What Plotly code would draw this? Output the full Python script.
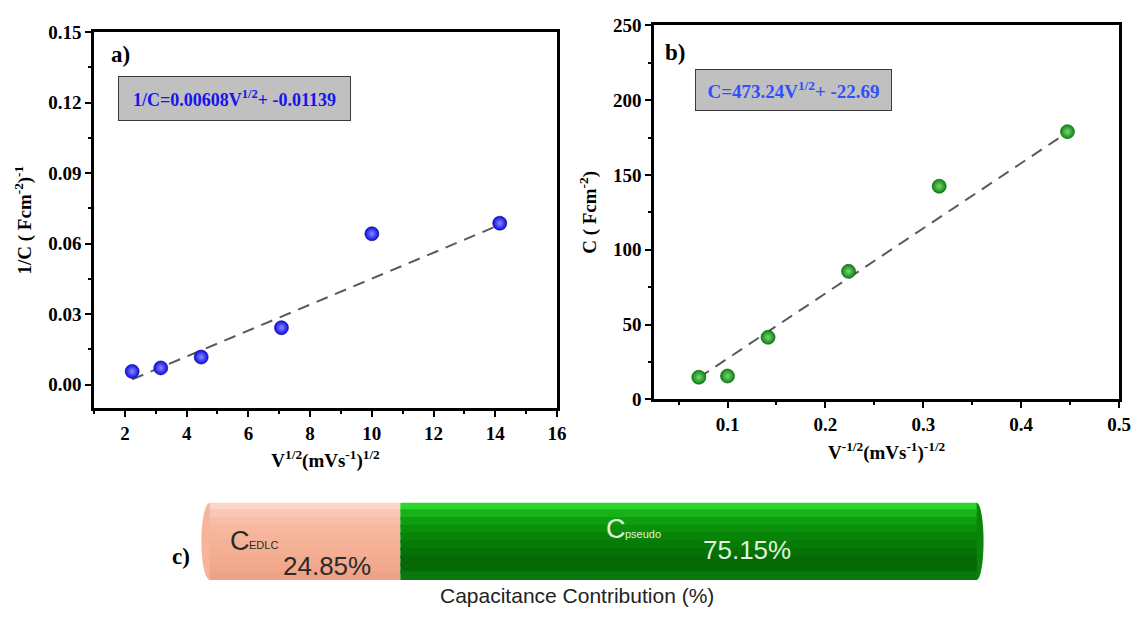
import plotly.graph_objects as go

# ---------------- data ----------------
# panel a
xa = [2.236, 3.162, 4.472, 7.071, 10.0, 14.142]
ya = [0.0056, 0.0071, 0.0117, 0.0242, 0.0642, 0.0687]
fit_a_x = [2.236, 14.142]
fit_a_y = [0.0022, 0.0680]
eq_a = "1/C=0.00608V<sup>1/2</sup>+ -0.01139"

# panel b
xb = [0.0707, 0.1, 0.1414, 0.2236, 0.3162, 0.4472]
yb = [14.8, 15.6, 41.5, 85.6, 142.5, 179.0]
fit_b_x = [0.0707, 0.4472]
fit_b_y = [14.5, 178.5]
eq_b = "C=473.24V<sup>1/2</sup>+ -22.69"

# panel c
parts = ["C_EDLC", "C_pseudo"]
contrib = [24.85, 75.15]
contrib_labels = ["24.85%", "75.15%"]

# ---------------- style ----------------
SERIF = "Liberation Serif"
SANS = "Liberation Sans"
W, H = 1146, 620

def px_x(p):
    return p / W

def px_y(p):
    return 1 - p / H

fig = go.Figure()

# panel a traces
fig.add_trace(go.Scatter(x=fit_a_x, y=fit_a_y, mode="lines",
                         line=dict(color="#5a5a5a", width=2, dash="12px,8px"),
                         xaxis="x", yaxis="y", showlegend=False))
fig.add_trace(go.Scatter(x=xa, y=ya, mode="markers",
                         marker=dict(size=14, color="#0c0ce6",
                                     gradient=dict(type="radial", color="#8a8aff"),
                                     line=dict(width=0.6, color="#00008a")),
                         xaxis="x", yaxis="y", showlegend=False))

# panel b traces
fig.add_trace(go.Scatter(x=fit_b_x, y=fit_b_y, mode="lines",
                         line=dict(color="#5a5a5a", width=2, dash="12px,8px"),
                         xaxis="x2", yaxis="y2", showlegend=False))
fig.add_trace(go.Scatter(x=xb, y=yb, mode="markers",
                         marker=dict(size=14, color="#0a8a0a",
                                     gradient=dict(type="radial", color="#7fd27f"),
                                     line=dict(width=0.6, color="#035503")),
                         xaxis="x2", yaxis="y2", showlegend=False))

# panel c: cylinder-like stacked bar built from overlapping gradient bands
peach_bands = ["#fbd7c8", "#f9c8b4", "#f8bea8", "#f7b89f", "#f6b49a",
               "#f5b196", "#f4ae93", "#f3ab90", "#f1a88c", "#eda386"]
green_bands = ["#2bd62b", "#17b217", "#0f9e0f", "#0b900b", "#088508",
               "#077b07", "#067206", "#056a05", "#066a06", "#0a780a"]
band_colors = [peach_bands, green_bands]
nb = len(peach_bands)
starts = [0.0]
for v in contrib[:-1]:
    starts.append(starts[-1] + v)
for i, (v, s) in enumerate(zip(contrib, starts)):
    for k, col in enumerate(band_colors[i]):
        fig.add_trace(go.Bar(x=[v], y=[nb - k - 0.5], base=[s], orientation="h",
                             width=1.3, marker=dict(color=col, line=dict(width=0)),
                             xaxis="x3", yaxis="y3", showlegend=False,
                             hoverinfo="skip"))

axis_common = dict(showline=True, linecolor="black", linewidth=2.5, mirror=True,
                   ticks="outside", ticklen=6, tickwidth=2, tickcolor="black",
                   showgrid=False, zeroline=False,
                   tickfont=dict(family=SERIF, size=19, color="black", weight="bold"),
                   minor=dict(ticks="outside", ticklen=3, tickwidth=2, tickcolor="black"))

title_font = dict(family=SERIF, size=19, color="black", weight="bold")

fig.update_layout(
    width=W, height=H, margin=dict(l=0, r=0, t=0, b=0),
    paper_bgcolor="white", plot_bgcolor="white", barmode="overlay",
    showlegend=False,
    xaxis=dict(domain=[px_x(95), px_x(563)], range=[1, 16], tick0=0, dtick=2,
               minor_dtick=1,
               title=dict(text="V<sup>1/2</sup>(mVs<sup>-1</sup>)<sup>1/2</sup>",
                          font=title_font, standoff=12),
               anchor="y", **axis_common),
    yaxis=dict(domain=[px_y(412), px_y(23)], range=[-0.01, 0.15], tick0=0, dtick=0.03,
               tickformat=".2f", minor_dtick=0.015,
               title=dict(text="1/C ( Fcm<sup>-2</sup>)<sup>-1</sup>",
                          font=title_font, standoff=12),
               anchor="x", **axis_common),
    xaxis2=dict(domain=[px_x(661), px_x(1131)], range=[0.025, 0.5], tick0=0, dtick=0.1,
                tickformat=".1f", minor_dtick=0.05,
                title=dict(text="V<sup>-1/2</sup>(mVs<sup>-1</sup>)<sup>-1/2</sup>",
                           font=title_font, standoff=12),
                anchor="y2", **axis_common),
    yaxis2=dict(domain=[px_y(403), px_y(16)], range=[0, 250], tick0=0, dtick=50,
                minor_dtick=25,
                title=dict(text="C ( Fcm<sup>-2</sup>)", font=title_font, standoff=12),
                anchor="x2", **axis_common),
    xaxis3=dict(domain=[px_x(196.5), px_x(1002.5)], range=[-2, 102], visible=False,
                anchor="y3", fixedrange=True),
    yaxis3=dict(domain=[px_y(590), px_y(510)], range=[0, nb], visible=False,
                anchor="x3", fixedrange=True),
)

# cylinder end caps
total = sum(contrib)
fig.add_shape(type="circle", xref="x3", yref="y3", x0=-1.1, x1=1.1, y0=0, y1=nb,
              fillcolor="#f6b49a", line=dict(width=0), layer="below")
fig.add_shape(type="circle", xref="x3", yref="y3", x0=total - 0.9, x1=total + 0.9,
              y0=0, y1=nb, fillcolor="#0a840a", line=dict(width=0), layer="below")

# equation boxes
fig.add_annotation(text=eq_a, xref="paper", yref="paper", x=px_x(119), y=px_y(68),
                   xanchor="left", yanchor="top", showarrow=False,
                   width=231, height=43, bgcolor="#c0c0c0", bordercolor="#3a3a3a",
                   borderwidth=1, borderpad=0, align="center",
                   font=dict(family=SERIF, size=18, color="#1414f0", weight="bold"))
fig.add_annotation(text=eq_b, xref="paper", yref="paper", x=px_x(702), y=px_y(61),
                   xanchor="left", yanchor="top", showarrow=False,
                   width=195, height=40, bgcolor="#c0c0c0", bordercolor="#3a3a3a",
                   borderwidth=1, borderpad=0, align="center",
                   font=dict(family=SERIF, size=19, color="#3050ff", weight="bold"))

# panel labels
for lab, x, y in [("a)", 110, 46), ("b)", 670, 44), ("c)", 172, 566)]:
    fig.add_annotation(text=lab, xref="paper", yref="paper", x=px_x(x), y=px_y(y),
                       xanchor="left", yanchor="middle", showarrow=False,
                       font=dict(family=SERIF, size=23, color="black", weight="bold"))

# bar labels (panel c)
dark = "#2b2b2b"
light = "#dff3df"
fig.add_annotation(text="C", xref="paper", yref="paper", x=px_x(230), y=px_y(550),
                   xanchor="left", yanchor="middle", showarrow=False,
                   font=dict(family=SANS, size=27, color=dark))
fig.add_annotation(text="EDLC", xref="paper", yref="paper", x=px_x(250), y=px_y(554),
                   xanchor="left", yanchor="middle", showarrow=False,
                   font=dict(family=SANS, size=11, color=dark))
fig.add_annotation(text=contrib_labels[0], xref="paper", yref="paper", x=px_x(330),
                   y=px_y(576), xanchor="center", yanchor="middle", showarrow=False,
                   font=dict(family=SANS, size=26, color=dark))
fig.add_annotation(text="C", xref="paper", yref="paper", x=px_x(610), y=px_y(537),
                   xanchor="left", yanchor="middle", showarrow=False,
                   font=dict(family=SANS, size=27, color=light))
fig.add_annotation(text="pseudo", xref="paper", yref="paper", x=px_x(630), y=px_y(542),
                   xanchor="left", yanchor="middle", showarrow=False,
                   font=dict(family=SANS, size=11, color=light))
fig.add_annotation(text=contrib_labels[1], xref="paper", yref="paper", x=px_x(755),
                   y=px_y(559), xanchor="center", yanchor="middle", showarrow=False,
                   font=dict(family=SANS, size=26, color=light))
fig.add_annotation(text="Capacitance Contribution (%)", xref="paper", yref="paper",
                   x=px_x(583), y=px_y(606), xanchor="center", yanchor="middle",
                   showarrow=False, font=dict(family=SANS, size=21, color="#222222"))

fig.write_html("out.html")
